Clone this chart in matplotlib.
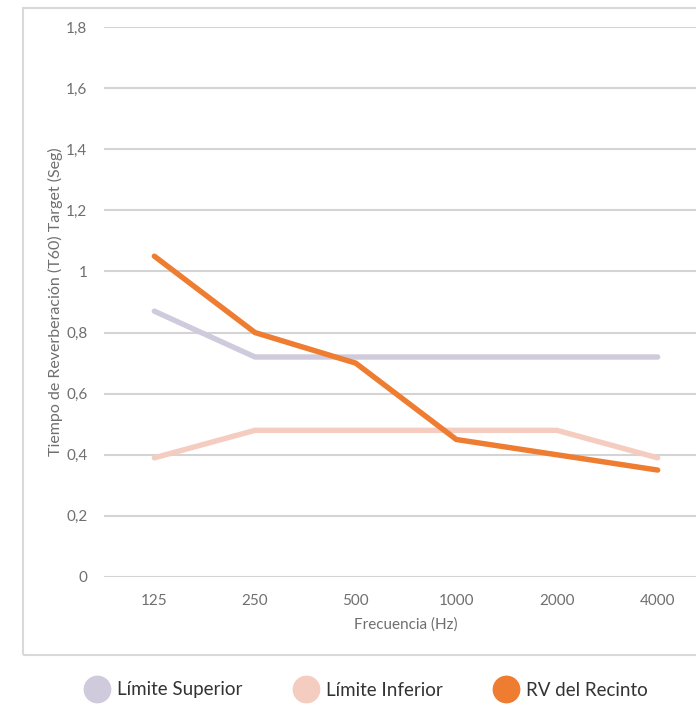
import matplotlib.pyplot as plt
from matplotlib.lines import Line2D
from matplotlib.patches import Rectangle
from matplotlib.ticker import FuncFormatter, MultipleLocator

plt.rcParams['font.family'] = ['Lato', 'DejaVu Sans']

# Reverberation time per octave band
frecuencias = ['125', '250', '500', '1000', '2000', '4000']
limite_superior = [0.87, 0.72, 0.72, 0.72, 0.72, 0.72]
limite_inferior = [0.39, 0.48, 0.48, 0.48, 0.48, 0.39]
rv_recinto = [1.05, 0.80, 0.70, 0.45, 0.40, 0.35]

series = [
    ('Límite Superior', limite_superior, '#cfcbdc'),
    ('Límite Inferior', limite_inferior, '#f5cdc0'),
    ('RV del Recinto', rv_recinto, '#ee7d31'),
]

text_color = '#6f6f6f'
grid_color = '#d4d4d4'

fig = plt.figure(figsize=(6.96, 7.04), dpi=100)

# outer frame around the plot area
fig.patches.append(Rectangle((23 / 696, 1 - 655 / 704), 700 / 696, 647 / 704,
                             transform=fig.transFigure, fill=False,
                             edgecolor='#d9d9d9', linewidth=1.5))

ax = fig.add_axes([104 / 696, 1 - 577 / 704, 604 / 696, 550 / 704])

x = range(len(frecuencias))
for name, vals, color in series:
    ax.plot(x, vals, color=color, linewidth=3.9, solid_capstyle='round',
            solid_joinstyle='miter', label=name, zorder=3)

ax.set_xlim(-0.5, len(frecuencias) - 0.5)
ax.set_ylim(0, 1.8)
ax.yaxis.set_major_locator(MultipleLocator(0.2))
ax.yaxis.set_major_formatter(FuncFormatter(lambda v, _: f'{v:.1f}'.rstrip('0').rstrip('.').replace('.', ',') if v else '0'))
ax.set_xticks(list(x))
ax.set_xticklabels(frecuencias)

ax.grid(axis='y', color=grid_color, linewidth=1.5)
ax.set_axisbelow(True)
for s in ax.spines.values():
    s.set_visible(False)
ax.tick_params(length=0, labelsize=11, colors=text_color)
ax.tick_params(axis='y', pad=12)
ax.tick_params(axis='x', pad=12)

ax.set_xlabel('Frecuencia (Hz)', fontsize=11, color=text_color, labelpad=7)
ax.set_ylabel('Tiempo de Reverberación (T60) Target (Seg)', fontsize=11.5,
              color=text_color, labelpad=2)

handles = [Line2D([], [], linestyle='none', marker='o', markersize=19,
                  markerfacecolor=c, markeredgecolor=c) for _, _, c in series]
fig.legend(handles, [n for n, _, _ in series], loc='center',
           bbox_to_anchor=(0.527, 1 - 690 / 704), ncol=3, frameon=False,
           fontsize=13.5, labelcolor='#333333', handletextpad=0.45,
           columnspacing=2.8, handlelength=1.2)

fig.savefig('out.png', dpi=100)
